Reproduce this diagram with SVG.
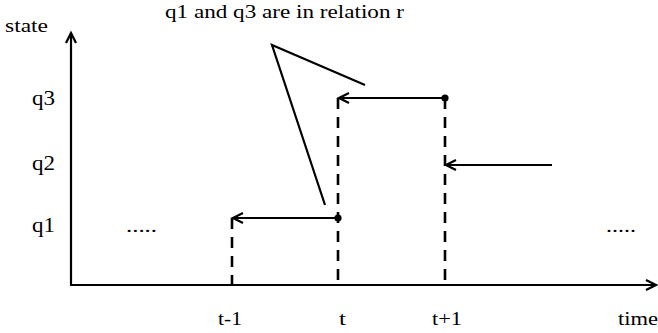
<svg xmlns="http://www.w3.org/2000/svg" width="658" height="333" viewBox="0 0 658 333">
<style>
text{font-family:'Liberation Serif','Times New Roman',serif;font-size:19px;fill:#000}
.q{font-size:21px}
.ax{stroke:#000;stroke-width:2.2;fill:none}
.ln{stroke:#000;stroke-width:2.2;fill:none}
.dash{stroke:#000;stroke-width:2.6;fill:none;stroke-dasharray:11 8}
.arr{marker-end:url(#ah)}
</style>
<defs>
<marker id="ah" markerUnits="userSpaceOnUse" orient="auto" markerWidth="20" markerHeight="20" refX="0" refY="0" viewBox="-12 -8 14 16" overflow="visible">
<path d="M-8,-4 L0,0 L-8,4" fill="none" stroke="#000" stroke-width="1.8"/>
</marker>
</defs>
<rect width="658" height="333" fill="#fff"/>
<g id="axes">
<line class="ax arr" x1="71" y1="285" x2="71" y2="33"/>
<line class="ax arr" x1="70" y1="285" x2="656" y2="285"/>
</g>
<g id="connectors">
<line class="dash" x1="232" y1="218" x2="232" y2="285"/>
<line class="dash" x1="338" y1="98" x2="338" y2="285"/>
<line class="dash" x1="445" y1="98" x2="445" y2="285"/>
<line class="ln arr" x1="338" y1="218" x2="233" y2="218"/>
<line class="ln arr" x1="445" y1="98" x2="339" y2="98"/>
<line class="ln arr" x1="552" y1="165" x2="446" y2="165"/>
<circle cx="338" cy="218" r="3.6" fill="#000"/>
<circle cx="445" cy="98" r="3.6" fill="#000"/>
<polyline class="ln" points="365,85 272,45 325,205"/>
</g>
<g id="labels">
<text x="165" y="18" textLength="239" lengthAdjust="spacingAndGlyphs">q1 and q3 are in relation r</text>
<text x="5" y="32" textLength="43" lengthAdjust="spacingAndGlyphs">state</text>
<text class="q" x="32" y="105" textLength="23" lengthAdjust="spacingAndGlyphs">q3</text>
<text class="q" x="32" y="170" textLength="23" lengthAdjust="spacingAndGlyphs">q2</text>
<text class="q" x="32" y="232" textLength="23" lengthAdjust="spacingAndGlyphs">q1</text>
<text x="126" y="232" textLength="31" lengthAdjust="spacingAndGlyphs">.....</text>
<text x="606" y="232" textLength="30" lengthAdjust="spacingAndGlyphs">.....</text>
<text x="218" y="325" textLength="24" lengthAdjust="spacingAndGlyphs">t-1</text>
<text x="339" y="325" textLength="7" lengthAdjust="spacingAndGlyphs">t</text>
<text x="432" y="325" textLength="30" lengthAdjust="spacingAndGlyphs">t+1</text>
<text x="618" y="325" textLength="40" lengthAdjust="spacingAndGlyphs">time</text>
</g>
</svg>
